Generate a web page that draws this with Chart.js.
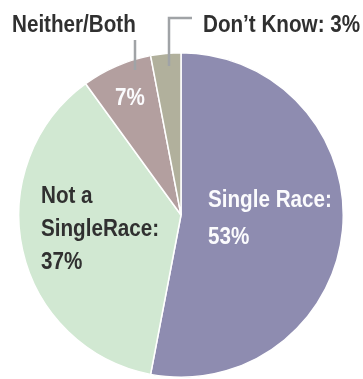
<!DOCTYPE html>
<html>
<head>
<meta charset="utf-8">
<script src="https://cdn.jsdelivr.net/npm/chart.js@4.4.1/dist/chart.umd.min.js"></script>
<style>
  html, body { margin: 0; padding: 0; background: #fff; }
  canvas { display: block; }
</style>
</head>
<body>
<canvas id="pie" width="363" height="379"></canvas>
<script>
// Survey answers, clockwise from 12 o'clock
const categories = ['Single Race', 'Not a SingleRace', 'Neither/Both', "Don't Know"];
const shares = [53, 37, 7, 3];
const sliceColors = ['#8e8cb0', '#d1e8d2', '#b39f9f', '#b1b09c'];

// Text drawn for each slice (one entry per line)
const labelLines = [
  ['Single Race:', '53%'],
  ['Not a', 'SingleRace:', '37%'],
  ['7%'],
  ['Don\u2019t Know: 3%']
];
const calloutText = 'Neither/Both';

// condensed look: regular sans squeezed horizontally
const FONT = "bold 24px 'Liberation Sans', Arial, sans-serif";
const SQUEEZE = 0.86;
const DARK = '#303030';
const LEADER = '#a0a3a6';

// Label placement, relative to the pie centre
const labelLayout = [
  { dx: 27, dy: -8, lineGap: 37, color: '#fbfbfd', align: 'left' },
  { dx: -140, dy: -12, lineGap: 33, color: DARK, align: 'left' },
  { dx: -51, dy: -110, lineGap: 0, color: '#fbfbfd', align: 'center' },
  { dx: 22, dy: -183, lineGap: 0, color: DARK, align: 'left' }
];

function squeezedText(ctx, text, x, y) {
  ctx.save();
  ctx.translate(x, y);
  ctx.scale(SQUEEZE, 1);
  ctx.fillText(text, 0, 0);
  ctx.restore();
}

const pieLabels = {
  id: 'pieLabels',
  afterDraw(chart) {
    const ctx = chart.ctx;
    const arc = chart.getDatasetMeta(0).data[0];
    const cx = arc.x, cy = arc.y;

    // leader lines for the two thin slices at the top
    ctx.save();
    ctx.strokeStyle = LEADER;
    ctx.lineWidth = 2.5;
    ctx.beginPath();
    ctx.moveTo(cx - 46, cy - 175);
    ctx.lineTo(cx - 46, cy - 145);
    ctx.moveTo(cx + 11, cy - 197);
    ctx.lineTo(cx - 12, cy - 197);
    ctx.lineTo(cx - 12, cy - 149);
    ctx.stroke();

    ctx.font = FONT;
    ctx.textBaseline = 'alphabetic';
    labelLines.forEach((lines, i) => {
      const lay = labelLayout[i];
      ctx.fillStyle = lay.color;
      ctx.textAlign = lay.align;
      lines.forEach((t, j) => {
        squeezedText(ctx, t, cx + lay.dx, cy + lay.dy + j * lay.lineGap);
      });
    });
    ctx.fillStyle = DARK;
    ctx.textAlign = 'left';
    squeezedText(ctx, calloutText, cx - 169, cy - 183);
    ctx.restore();
  }
};

new Chart(document.getElementById('pie'), {
  type: 'pie',
  data: {
    labels: categories,
    datasets: [{
      data: shares,
      backgroundColor: sliceColors,
      borderColor: '#ffffff',
      borderWidth: 1.5
    }]
  },
  options: {
    responsive: false,
    devicePixelRatio: 1,
    animation: false,
    layout: { padding: { top: 52, bottom: 1, left: 18, right: 19 } },
    plugins: {
      legend: { display: false },
      tooltip: { enabled: false },
      title: { display: false }
    }
  },
  plugins: [pieLabels]
});
</script>
</body>
</html>
